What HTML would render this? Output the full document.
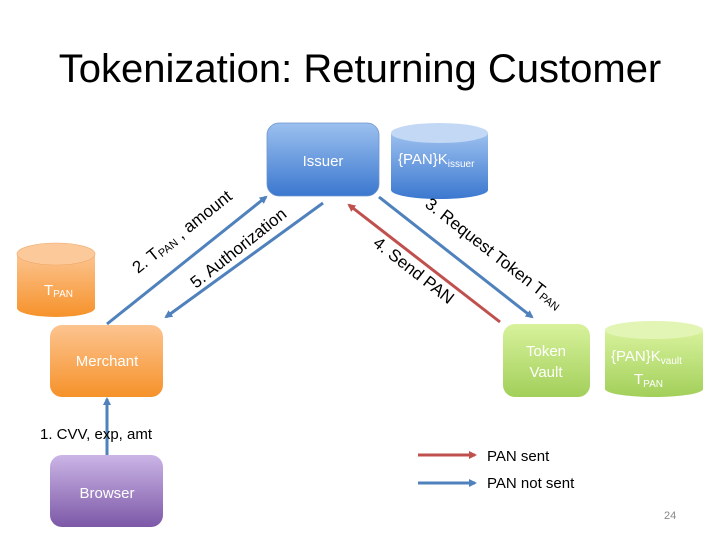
<!DOCTYPE html>
<html><head><meta charset="utf-8"><style>
body{margin:0;width:720px;height:540px;background:#fff;overflow:hidden}
svg{display:block}
text{font-family:"Liberation Sans",sans-serif}
</style></head><body>
<svg width="720" height="540" viewBox="0 0 720 540" xmlns="http://www.w3.org/2000/svg">
<defs>
<linearGradient id="gb" x1="0" y1="0" x2="0" y2="1"><stop offset="0" stop-color="#9cc0ef"/><stop offset="1" stop-color="#3b78cf"/></linearGradient>
<linearGradient id="go" x1="0" y1="0" x2="0" y2="1"><stop offset="0" stop-color="#fcc490"/><stop offset="1" stop-color="#f6922a"/></linearGradient>
<linearGradient id="gg" x1="0" y1="0" x2="0" y2="1"><stop offset="0" stop-color="#d8f29c"/><stop offset="1" stop-color="#a2cf5a"/></linearGradient>
<linearGradient id="gp" x1="0" y1="0" x2="0" y2="1"><stop offset="0" stop-color="#cbb5e6"/><stop offset="1" stop-color="#7c58a7"/></linearGradient>
<marker id="ab" markerWidth="8" markerHeight="8" refX="6" refY="4" orient="auto" markerUnits="userSpaceOnUse"><path d="M0,0 L8,4 L0,8 z" fill="#4f81bd"/></marker>
<marker id="ar" markerWidth="8" markerHeight="8" refX="6" refY="4" orient="auto" markerUnits="userSpaceOnUse"><path d="M0,0 L8,4 L0,8 z" fill="#c0504d"/></marker>
</defs>
<text x="360" y="82" font-size="40" text-anchor="middle" fill="#000">Tokenization: Returning Customer</text>

<!-- Issuer -->
<rect x="267" y="123" width="112" height="73" rx="12" fill="url(#gb)" stroke="#6f95cc" stroke-width="0.8"/>
<text x="323" y="166" font-size="15" fill="#fff" text-anchor="middle">Issuer</text>
<!-- Kissuer cylinder -->
<path d="M391,133 L391,190 A48.5,9 0 0 0 488,190 L488,133 Z" fill="url(#gb)"/>
<ellipse cx="439.5" cy="133" rx="48.5" ry="10" fill="#c3d8f5"/>
<text x="398" y="164" font-size="15" fill="#fff">{PAN}K<tspan font-size="10" dy="3">issuer</tspan></text>

<!-- TPAN cylinder -->
<path d="M17,254 L17,308 A39,9 0 0 0 95,308 L95,254 Z" fill="url(#go)"/>
<ellipse cx="56" cy="254" rx="39" ry="11" fill="#fcc99a" stroke="#f1a868" stroke-width="0.6"/>
<text x="44" y="295" font-size="15" fill="#fff">T<tspan font-size="10" dy="2">PAN</tspan></text>

<!-- Merchant -->
<rect x="50" y="325" width="113" height="72" rx="12" fill="url(#go)"/>
<text x="107" y="366" font-size="15" fill="#fff" text-anchor="middle">Merchant</text>

<!-- Browser -->
<rect x="50" y="455" width="113" height="72" rx="12" fill="url(#gp)"/>
<text x="107" y="498" font-size="15" fill="#fff" text-anchor="middle">Browser</text>

<!-- Token Vault -->
<rect x="503" y="324" width="87" height="73" rx="12" fill="url(#gg)"/>
<text x="546" y="356" font-size="15" fill="#fff" text-anchor="middle">Token</text>
<text x="546" y="377" font-size="15" fill="#fff" text-anchor="middle">Vault</text>
<!-- Vault cylinder -->
<path d="M605,330 L605,389 A49,8 0 0 0 703,389 L703,330 Z" fill="url(#gg)"/>
<ellipse cx="654" cy="330" rx="49" ry="9" fill="#e2f5b5"/>
<text x="611" y="361" font-size="15" fill="#fff">{PAN}K<tspan font-size="10" dy="3">vault</tspan></text>
<text x="634" y="384" font-size="15" fill="#fff">T<tspan font-size="10" dy="3">PAN</tspan></text>

<!-- arrows -->
<line x1="107" y1="324" x2="266" y2="197" stroke="#4f81bd" stroke-width="3" marker-end="url(#ab)"/>
<line x1="323" y1="203" x2="166" y2="317" stroke="#4f81bd" stroke-width="3" marker-end="url(#ab)"/>
<line x1="500" y1="322" x2="349" y2="205" stroke="#c0504d" stroke-width="3" marker-end="url(#ar)"/>
<line x1="379" y1="197" x2="532" y2="317" stroke="#4f81bd" stroke-width="3" marker-end="url(#ab)"/>
<line x1="107" y1="455" x2="107" y2="399" stroke="#4f81bd" stroke-width="3" marker-end="url(#ab)"/>

<!-- labels -->
<g transform="translate(138,274) rotate(-38.5)"><text font-size="17" fill="#000">2. T<tspan font-size="11" dy="2">PAN</tspan><tspan dy="-2"> , amount</tspan></text></g>
<g transform="translate(196,289) rotate(-38.5)"><text font-size="17" fill="#000">5. Authorization</text></g>
<g transform="translate(424,206) rotate(38)"><text font-size="17" fill="#000">3. Request Token T<tspan font-size="11" dy="2">PAN</tspan></text></g>
<g transform="translate(372,245) rotate(38)"><text font-size="17" fill="#000">4. Send PAN</text></g>

<text x="40" y="439" font-size="15" fill="#000">1. CVV, exp, amt</text>

<!-- legend -->
<line x1="418" y1="455" x2="475" y2="455" stroke="#c0504d" stroke-width="3" marker-end="url(#ar)"/>
<text x="487" y="461" font-size="15" fill="#000">PAN sent</text>
<line x1="418" y1="483" x2="475" y2="483" stroke="#4f81bd" stroke-width="3" marker-end="url(#ab)"/>
<text x="487" y="488" font-size="15" fill="#000">PAN not sent</text>
<text x="664" y="519" font-size="11" fill="#888">24</text>
</svg>
</body></html>
